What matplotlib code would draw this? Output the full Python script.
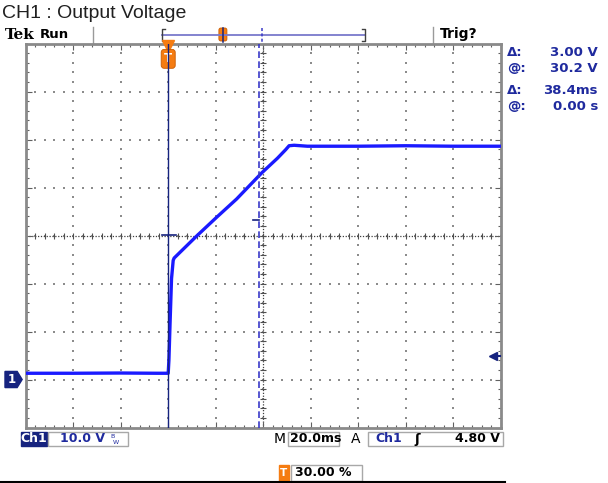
import numpy as np
import matplotlib.pyplot as plt
import matplotlib.transforms as mtransforms
from matplotlib.patches import Rectangle, FancyBboxPatch, Polygon

# scope settings shown on screen
volts_per_div = 10.0
ms_per_div = 20.0
trig_pos = 0.30          # trigger position in record
trig_level = 4.80        # V
ground_div = -3          # ch1 ground marker, divisions from centre
cursor_t = [0.0, 38.4]   # ms
cursor_v = [30.2, 33.2]  # V

# trace (ms, V)
t_ms = [-60, -40, -20, -5, 0, 0.3, 0.8, 1.4, 2.1, 2.5, 12.0, 20.4, 28.8,
        39.5, 46.0, 49.5, 50.9, 53.0, 58.6, 80, 100, 120, 140]
volts = [1.3, 1.3, 1.35, 1.3, 1.3, 4.0, 12.0, 21.0, 24.8, 25.3, 29.9, 33.8,
         37.6, 43.1, 46.1, 47.9, 48.7, 48.8, 48.6, 48.6, 48.7, 48.6, 48.6]

readout_labels = ["\u0394:", "@:", "\u0394:", "@:"]
readout_values = ["3.00 V", "30.2 V", "38.4ms", "0.00 s"]

W, H = 608, 483
orange = "#f57c12"
navy = "#16237f"
blue_txt = "#1f2a9e"
trace_col = "#1a1aff"
grid_col = "#8c8c8c"

fig = plt.figure(figsize=(W / 100, H / 100), dpi=100)

# overlay in pixel coords for the screen furniture
ov = fig.add_axes([0, 0, 1, 1], zorder=0)
ov.set_xlim(0, W)
ov.set_ylim(H, 0)
ov.axis("off")

# graticule
gl, gr, gt, gb = 25.7, 500.7, 43.5, 427.5
ax = fig.add_axes([gl / W, (H - gb) / H, (gr - gl) / W, (gb - gt) / H], zorder=1)
x0 = -trig_pos * 10 * ms_per_div
ax.set_xlim(x0, x0 + 10 * ms_per_div)
y0 = (-4 - ground_div) * volts_per_div
ax.set_ylim(y0, y0 + 8 * volts_per_div)

xmaj = np.arange(x0, x0 + 10 * ms_per_div + 0.1, ms_per_div)
ymaj = np.arange(y0, y0 + 8 * volts_per_div + 0.1, volts_per_div)
xmin = np.arange(x0, x0 + 10 * ms_per_div + 0.1, ms_per_div / 5)
ymin = np.arange(y0, y0 + 8 * volts_per_div + 0.1, volts_per_div / 5)
ax.set_xticks(xmaj)
ax.set_yticks(ymaj)
ax.set_xticks(xmin, minor=True)
ax.set_yticks(ymin, minor=True)
ax.tick_params(which="both", direction="in", top=True, right=True,
               labelbottom=False, labelleft=False, color="#606060", width=0.8)
ax.tick_params(which="major", length=4)
ax.tick_params(which="minor", length=2.5)
for s in ax.spines.values():
    s.set_color("#8a8a8a")
    s.set_linewidth(2)

# dotted graticule
gx, gy = np.meshgrid(xmaj[1:-1], ymin)
ax.scatter(gx.ravel(), gy.ravel(), s=1.2, marker="s", color=grid_col, lw=0, zorder=1)
gx, gy = np.meshgrid(xmin, ymaj[1:-1])
ax.scatter(gx.ravel(), gy.ravel(), s=1.2, marker="s", color=grid_col, lw=0, zorder=1)

xc = x0 + 5 * ms_per_div
yc = y0 + 4 * volts_per_div
ax.axvline(xc, color="#404040", lw=0.9, ls=(0, (1, 1.3)), zorder=1)
ax.axhline(yc, color="#404040", lw=0.9, ls=(0, (1, 1.3)), zorder=1)
ax.scatter(xmin, [yc] * len(xmin), marker="|", s=14, color="#505050", lw=0.8, zorder=1)
ax.scatter([xc] * len(ymin), ymin, marker="_", s=14, color="#505050", lw=0.8, zorder=1)

# waveform
ax.plot(t_ms, volts, color=trace_col, lw=2.4, zorder=3)

# cursors
ax.axvline(cursor_t[0], color=navy, lw=1.0, zorder=5)
ax.axvline(cursor_t[1], color="#3a3ac8", lw=1.2, ls=(0, (4, 2)), zorder=4)
ax.plot([cursor_t[0] - 2.6, cursor_t[0] + 3.3], [cursor_v[0]] * 2, color=navy, lw=1.2, zorder=5)
ax.plot([cursor_t[1] - 2.6, cursor_t[1]], [cursor_v[1]] * 2, color=navy, lw=1.2, zorder=5)

# trigger position marker
tx = mtransforms.blended_transform_factory(ax.transData, ax.transAxes)
ax.plot(0, 0.993, marker="v", ms=8, color=orange, transform=tx, clip_on=False, zorder=4)
ax.text(0, 0.96, "T", transform=tx, ha="center", va="center", color="white",
        fontsize=8.5, fontweight="bold", zorder=4,
        bbox=dict(boxstyle="round,pad=0.25", fc=orange, ec="#c85a00", lw=0.6))

# ground marker and trigger level
ty = mtransforms.blended_transform_factory(ax.transAxes, ax.transData)
hv = 0.021 * 8 * volts_per_div  # half height of marker, ~8 px
gnd = Polygon([(-0.0436, -hv), (-0.018, -hv), (-0.0075, 0), (-0.018, hv), (-0.0436, hv)],
              closed=True, transform=ty, fc=navy, ec=navy, clip_on=False, zorder=5)
ax.add_patch(gnd)
ax.text(-0.029, 0.0, "1", transform=ty, ha="center", va="center", color="white",
        fontsize=8.5, fontweight="bold", clip_on=False, zorder=6)
ax.plot(0.984, trig_level, marker="<", ms=6, color=navy, transform=ty, clip_on=False, zorder=5)
ax.plot([0.984, 0.998], [trig_level] * 2, color=navy, lw=1.5, transform=ty, clip_on=False, zorder=5)

# title and top status line
ov.text(2, 13, "CH1 : Output Voltage", ha="left", va="center", fontsize=14,
        family="Liberation Sans", color="#202020")
ov.text(5, 35, "Tek", ha="left", va="center", fontsize=11, family="DejaVu Serif",
        fontweight="bold", color="black")
ov.text(40, 35, "Run", ha="left", va="center", fontsize=9.5, fontweight="bold", color="black")
for xs in (93, 433):
    ov.plot([xs, xs], [27, 43], color="#9a9a9a", lw=1)
ov.text(440, 34, "Trig?", ha="left", va="center", fontsize=10, fontweight="bold", color="black")

# record view bar
rl, rr = 162, 365
ov.plot([rl, rr], [35, 35], color="#7a7acc", lw=1.3)
for xe, d in ((rl, 1), (rr, -1)):
    ov.plot([xe + 3 * d, xe, xe, xe + 3 * d], [29, 29, 41, 41], color="#404040", lw=1)
trig_x = rl + trig_pos * (rr - rl)
ov.add_patch(FancyBboxPatch((trig_x - 3.5, 28.5), 7, 12, boxstyle="round,pad=0.5,rounding_size=2",
                            fc=orange, ec="#c85a00", lw=0.6))
for ct, st in zip(cursor_t, ["-", (0, (2, 1.5))]):
    cx = rl + (ct - x0) / (10 * ms_per_div) * (rr - rl)
    ov.plot([cx, cx], [28, 42], color="#3a3ac8" if st != "-" else navy, lw=1.1, ls=st)

# cursor readouts
for i, (lab, val) in enumerate(zip(readout_labels, readout_values)):
    yy = [52, 68, 90, 106][i]
    ov.text(507, yy, lab, ha="left", va="center", fontsize=9.5, fontweight="bold", color=blue_txt)
    ov.text(598, yy, val, ha="right", va="center", fontsize=9.5, fontweight="bold", color=blue_txt)

# bottom status line
box_ec = "#a8a8a8"
ov.add_patch(Rectangle((21, 432), 26, 14, fc=navy, ec=navy))
ov.text(34, 439, "Ch1", ha="center", va="center", fontsize=9, fontweight="bold", color="white")
ov.add_patch(Rectangle((48, 432), 80, 14, fc="none", ec=box_ec, lw=1))
ov.text(60, 439, "10.0 V", ha="left", va="center", fontsize=9, fontweight="bold", color=blue_txt)
ov.text(110, 436, "B", ha="left", va="center", fontsize=4.5, color=blue_txt)
ov.text(113, 442, "W", ha="left", va="center", fontsize=4.5, color=blue_txt)

ov.text(274, 439, "M", ha="left", va="center", fontsize=10, color="black")
ov.add_patch(Rectangle((288, 432), 51, 14, fc="none", ec=box_ec, lw=1))
ov.text(290, 439, "20.0ms", ha="left", va="center", fontsize=9, fontweight="bold", color="black")
ov.text(351, 439, "A", ha="left", va="center", fontsize=10, color="black")
ov.add_patch(Rectangle((368, 432), 135, 14, fc="none", ec=box_ec, lw=1))
ov.text(375, 439, "Ch1", ha="left", va="center", fontsize=9, fontweight="bold", color=blue_txt)
ov.text(414, 439, "\u0283", ha="left", va="center", fontsize=9.5, fontweight="bold", color="black")
ov.text(500, 439, "%.2f V" % trig_level, ha="right", va="center", fontsize=9,
        fontweight="bold", color="black")

ov.add_patch(Rectangle((279, 465), 10, 16, fc=orange, ec=orange))
ov.text(284, 473, "T", ha="center", va="center", fontsize=7.5, fontweight="bold", color="white")
ov.add_patch(Rectangle((291, 465), 71, 16, fc="none", ec=box_ec, lw=1))
ov.text(295, 473, "%.2f %%" % (trig_pos * 100), ha="left", va="center", fontsize=9,
        fontweight="bold", color="black")
ov.plot([0, 505], [482, 482], color="black", lw=1.5)

fig.savefig("out.png", dpi=100)
